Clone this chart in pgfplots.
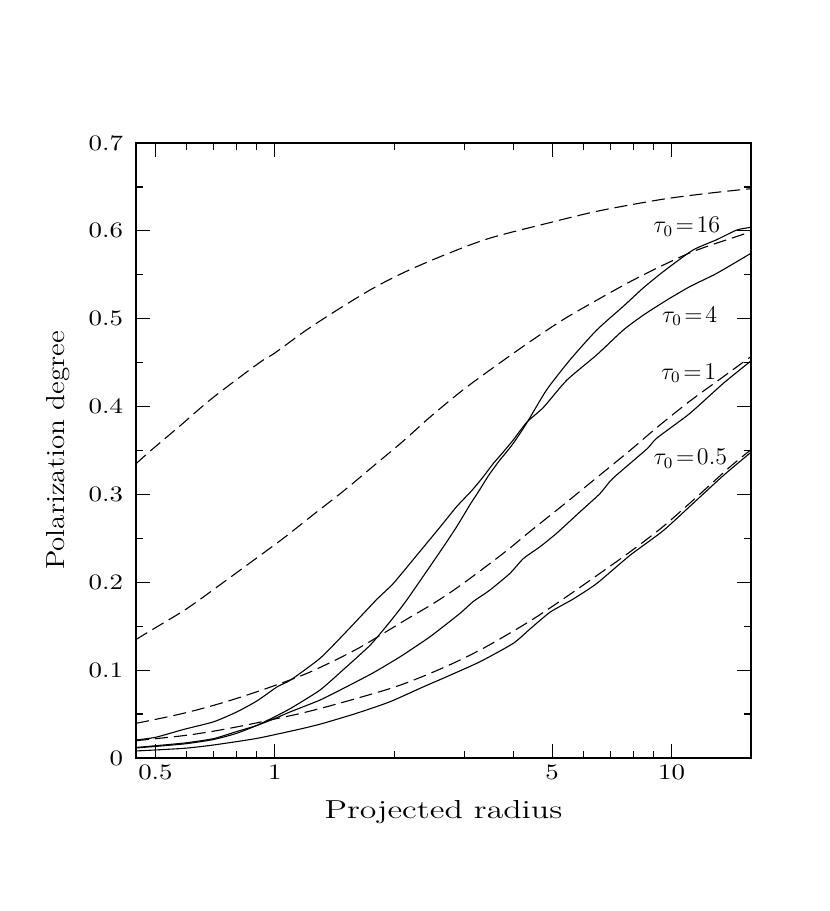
\documentclass[border=0pt]{standalone}
\usepackage{fontspec}
\setmainfont{Latin Modern Roman}
\usepackage{pgfplots}
\pgfplotsset{compat=1.18}
\begin{document}
\begin{tikzpicture}
% page size of the reference (1px = 0.5pt), axis box lower left at (0,0)
\path[use as bounding box] (-68pt,-76.5pt) rectangle (347pt,379pt);
\begin{axis}[
    at={(0,0)}, anchor=south west,
    scale only axis,
    width=307.5pt, height=307.5pt,
    xmode=log,
    xmin=0.4467, xmax=15.85,
    ymin=0, ymax=0.7,
    xtick={0.5,1,5,10},
    xticklabels={0.5,1,5,10},
    minor xtick={0.6,0.7,0.8,0.9,2,3,4,6,7,8,9},
    ytick={0,0.1,0.2,0.3,0.4,0.5,0.6,0.7},
    yticklabels={0,0.1,0.2,0.3,0.4,0.5,0.6,0.7},
    minor ytick={0.05,0.15,0.25,0.35,0.45,0.55,0.65},
    tick align=inside,
    major tick length=7pt,
    minor tick length=3.6pt,
    every tick/.style={black, line width=0.6pt},
    axis line style={line width=0.7pt},
    /pgf/number format/assume math mode=true,
    ticklabel style={font=\fontsize{11}{13}\selectfont\addfontfeatures{FakeStretch=1.22}},
    yticklabel style={xshift=-3pt},
    xlabel={Projected radius},
    ylabel={Polarization degree},
    xlabel style={at={(axis description cs:0.5,-0.0976)}, anchor=base,
        font=\fontsize{13}{15}\selectfont\addfontfeatures{FakeStretch=1.3}},
    ylabel style={at={(axis description cs:-0.117,0.5)}, anchor=base,
        font=\fontsize{13}{15}\selectfont\addfontfeatures{FakeStretch=1.12}},
    dsh/.style={black, no marks, smooth, line width=0.55pt, dash pattern=on 6.5pt off 3pt},
    sld/.style={black, no marks, smooth, tension=0.35, line width=0.55pt},
]
% dashed curves
\addplot[dsh] coordinates {
    (0.447,0.335) (0.484,0.349) (0.580,0.379) (0.693,0.409) (0.908,0.449)
    (1.00,0.461) (1.20,0.487) (1.46,0.512) (1.79,0.536) (2.17,0.555)
    (2.76,0.575) (3.50,0.592) (5.00,0.610) (6.60,0.623) (9.50,0.636)
    (12.5,0.643) (15.85,0.648)
};
\addplot[dsh] coordinates {
    (0.447,0.135) (0.499,0.148) (0.600,0.170) (0.727,0.197) (0.865,0.222)
    (1.05,0.250) (1.25,0.277) (1.50,0.305) (1.79,0.334) (2.11,0.361)
    (2.46,0.388) (2.98,0.419) (3.62,0.447) (4.40,0.474) (5.33,0.499)
    (6.47,0.521) (7.85,0.542) (9.52,0.561) (11.56,0.578) (15.85,0.599)
};
\addplot[dsh] coordinates {
    (0.447,0.0395) (0.501,0.0440) (0.590,0.0510) (0.702,0.0600) (0.836,0.0705)
    (1.014,0.0835) (1.20,0.0960) (1.40,0.1100) (1.64,0.1260) (1.88,0.1420)
    (2.15,0.1580) (2.46,0.1735) (2.76,0.1880) (3.16,0.2070) (3.84,0.2360)
    (4.40,0.2580) (5.33,0.2880) (6.47,0.3190) (7.85,0.3500) (9.17,0.3760)
    (11.1,0.4060) (13.5,0.4340) (15.85,0.4570)
};
\addplot[dsh] coordinates {
    (0.447,0.0197) (0.59,0.0255) (0.70,0.0305) (0.836,0.0370) (1.014,0.0450)
    (1.18,0.0515) (1.46,0.0625) (1.95,0.0790) (2.32,0.0915) (2.82,0.1080)
    (3.42,0.1270) (4.40,0.1560) (5.33,0.1810) (6.47,0.2075) (7.85,0.2345)
    (9.52,0.2635) (11.56,0.2970) (14.0,0.3310) (15.85,0.3510)
};
% solid curves: tau_0 = 16, 4, 1, 0.5
\addplot[sld] coordinates {
    (0.447,0.0114) (0.59,0.016) (0.70,0.021) (0.80,0.028) (0.90,0.037)
    (1.00,0.047) (1.096,0.0565) (1.30,0.0774) (1.50,0.102) (1.74,0.1286)
    (1.95,0.155) (2.15,0.1798) (2.61,0.235) (2.87,0.263) (3.10,0.288)
    (3.29,0.306) (3.45,0.321) (3.66,0.337) (3.88,0.351) (4.03,0.361)
    (4.31,0.381) (4.84,0.419) (5.54,0.453) (6.47,0.487) (7.55,0.514)
    (8.48,0.535) (9.52,0.5535) (11.3,0.578) (13.0,0.590) (14.6,0.601)
    (15.85,0.604)
};
\addplot[sld] coordinates {
    (0.447,0.0205) (0.501,0.0236) (0.590,0.0326) (0.702,0.0413) (0.804,0.0527)
    (0.903,0.0652) (1.014,0.0811) (1.096,0.0888) (1.30,0.1135) (1.50,0.1419)
    (1.80,0.1798) (1.99,0.1988) (2.30,0.233) (2.61,0.263) (2.87,0.286)
    (3.13,0.304) (3.35,0.320) (3.55,0.335) (3.76,0.348) (3.99,0.362)
    (4.31,0.382) (4.75,0.399) (5.44,0.430) (6.47,0.4587) (7.55,0.487)
    (8.48,0.504) (9.71,0.521) (11.1,0.5364) (13.0,0.5517) (15.85,0.5745)
};
\addplot[sld] coordinates {
    (0.447,0.012) (0.59,0.017) (0.70,0.022) (0.80,0.030) (0.90,0.037)
    (1.00,0.045) (1.096,0.0527) (1.30,0.066) (1.50,0.080) (1.77,0.097)
    (2.07,0.1153) (2.46,0.138) (2.93,0.1647) (3.16,0.178) (3.48,0.191)
    (3.91,0.210) (4.23,0.227) (4.66,0.2405) (5.13,0.2558) (5.87,0.280)
    (6.6,0.301) (7.1,0.318) (8.66,0.3517) (9.17,0.364) (11.1,0.392)
    (13.5,0.4265) (15.85,0.452)
};
\addplot[sld] coordinates {
    (0.447,0.008) (0.59,0.011) (0.70,0.0148) (0.903,0.0224) (1.18,0.0338)
    (1.324,0.0395) (1.607,0.0509) (1.95,0.064) (2.37,0.0811) (2.71,0.0925)
    (3.29,0.1096) (3.99,0.1305) (4.40,0.147) (4.94,0.166) (5.65,0.181)
    (6.47,0.1985) (7.85,0.2306) (9.52,0.2587) (11.3,0.2894) (13.5,0.3215)
    (15.85,0.348)
};
\node[anchor=base west, font=\fontsize{11.5}{13}\selectfont, inner sep=0pt]
    at (axis cs:8.97,0.598) {$\tau_0\!=\!16$};
\node[anchor=base west, font=\fontsize{11.5}{13}\selectfont, inner sep=0pt]
    at (axis cs:9.44,0.496) {$\tau_0\!=\!4$};
\node[anchor=base west, font=\fontsize{11.5}{13}\selectfont, inner sep=0pt]
    at (axis cs:9.38,0.431) {$\tau_0\!=\!1$};
\node[anchor=base west, font=\fontsize{11.5}{13}\selectfont, inner sep=0pt]
    at (axis cs:8.99,0.334) {$\tau_0\!=\!0.5$};
\end{axis}
\end{tikzpicture}
\end{document}
